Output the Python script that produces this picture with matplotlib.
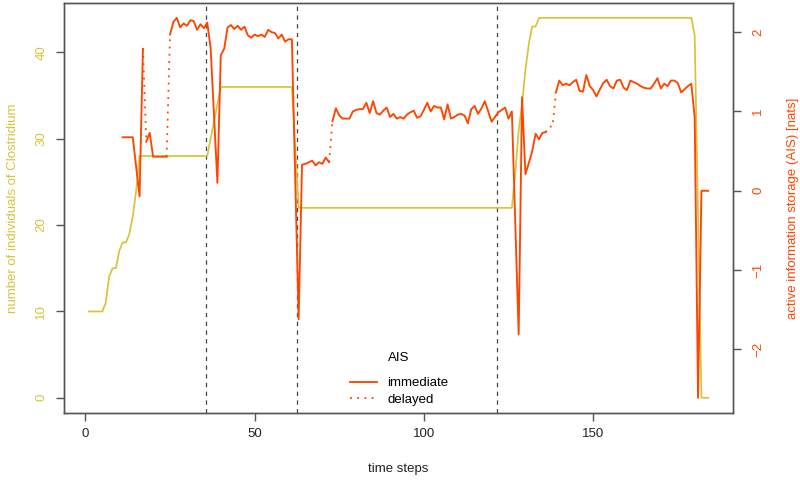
import numpy as np
import matplotlib
matplotlib.use("Agg")
import matplotlib.pyplot as plt

plt.rcParams['font.family'] = ['Liberation Sans', 'DejaVu Sans']

# ---------------- data ----------------
time_steps = np.arange(1, 185)

clostridium = (
    [10, 10, 10, 10, 10, 11, 14, 15, 15, 17, 18, 18, 19, 21, 24, 28]      # t=1..16
    + [28] * 20                                                          # t=17..36
    + [30, 32, 34, 36]                                                   # t=37..40
    + [36] * 21                                                          # t=41..61
    + [29]                                                               # t=62
    + [22] * 64                                                          # t=63..126
    + [26, 31, 34, 38, 41, 43, 43]                                       # t=127..133
    + [44] * 46                                                          # t=134..179
    + [42, 21, 0, 0, 0]                                                  # t=180..184
)

ais_start = 11
ais_values = [
    0.675, 0.675, 0.675, 0.675, 0.30, -0.07, 1.79, 0.62, 0.73, 0.43,      # 11-20
    0.43, 0.43, 0.43, 0.43, 1.97, 2.13, 2.18, 2.06, 2.11, 2.08,           # 21-30
    2.15, 2.14, 2.03, 2.10, 2.05, 2.12, 1.80, 0.95, 0.10, 1.71,           # 31-40
    1.79, 2.06, 2.09, 2.04, 2.08, 2.03, 2.07, 1.96, 1.93, 1.97,           # 41-50
    1.95, 1.97, 1.94, 2.03, 2.00, 1.99, 1.92, 1.97, 1.88, 1.91,           # 51-60
    1.91, 0.15, -1.62, 0.33, 0.34, 0.36, 0.38, 0.32, 0.36, 0.34,          # 61-70
    0.42, 0.36, 0.88, 1.04, 0.95, 0.91, 0.91, 0.91, 1.00, 1.02,           # 71-80
    1.03, 1.03, 1.11, 0.98, 1.13, 0.98, 0.96, 1.01, 1.05, 0.93,           # 81-90
    0.97, 0.91, 0.93, 0.91, 0.96, 0.99, 1.01, 0.92, 0.94, 1.02,           # 91-100
    1.11, 1.00, 1.07, 1.05, 1.05, 0.90, 1.09, 0.91, 0.93, 0.96,           # 101-110
    0.97, 0.95, 0.85, 1.03, 1.07, 0.97, 1.04, 1.13, 1.00, 0.87,           # 111-120
    0.93, 0.99, 1.02, 1.05, 0.91, 1.00, -0.40, -1.81, 1.18, 0.21,         # 121-130
    0.35, 0.50, 0.72, 0.65, 0.73, 0.74, 0.81, 0.81, 1.24, 1.39,           # 131-140
    1.33, 1.35, 1.33, 1.37, 1.40, 1.26, 1.25, 1.46, 1.32, 1.27,           # 141-150
    1.19, 1.28, 1.36, 1.40, 1.32, 1.29, 1.39, 1.40, 1.30, 1.27,           # 151-160
    1.39, 1.37, 1.35, 1.32, 1.30, 1.29, 1.29, 1.35, 1.42, 1.29,           # 161-170
    1.35, 1.32, 1.39, 1.39, 1.36, 1.24, 1.28, 1.32, 1.35, 0.93,           # 171-180
    -2.61, 0.0, 0.0, 0.0,                                                 # 181-184
]
ais_t = np.arange(ais_start, ais_start + len(ais_values))

# time steps t whose step t -> t+1 is drawn as "delayed"
delayed_steps = [17, 24, 72, 136, 137, 138]

# phase boundaries
phase_breaks = [35.5, 62.5, 121.5]

x_ticks = [0, 50, 100, 150]
left_ticks = [0, 10, 20, 30, 40]
right_ticks = [-2, -1, 0, 1, 2]

# ---------------- style ----------------
YELLOW = "#D7C43A"
ORANGE = "#FF4500"
BOX = "#555555"

fig = plt.figure(figsize=(8, 4.8), dpi=100)
ax = fig.add_axes([64 / 800, 1 - 413 / 480, (733 - 64) / 800, (413 - 2.7) / 480])
ax2 = ax.twinx()

# population
ax.plot(time_steps, clostridium, color=YELLOW, lw=1.25, zorder=2)
for b in phase_breaks:
    ax.axvline(b, color="#444444", lw=0.9, ls=(0, (3.5, 3.5)), zorder=1)

# AIS immediate (solid, broken where delayed)
xs, ys = [], []
for t, v in zip(ais_t, ais_values):
    xs.append(t)
    ys.append(v)
    if t in delayed_steps:
        xs.append(np.nan)
        ys.append(np.nan)
ax2.plot(xs, ys, color=ORANGE, lw=1.35, solid_joinstyle="round", label="immediate")

# AIS delayed (dotted) runs
ais_map = dict(zip(ais_t, ais_values))
runs = []
for t in delayed_steps:
    if runs and runs[-1][-1] == t - 1:
        runs[-1].append(t)
    else:
        runs.append([t])
first = True
for r in runs:
    tt = list(r) + [r[-1] + 1]
    ax2.plot(tt, [ais_map[k] for k in tt], color=ORANGE, lw=1.3,
             ls=(0, (1, 3)), label="delayed" if first else None)
    first = False

# ---------------- axes ----------------
ax.set_xlim(1 - 0.04 * 183, 184 + 0.04 * 183)
ax.set_ylim(-0.04 * 44, 44 * 1.04)
amin, amax = min(ais_values), max(ais_values)
span = amax - amin
ax2.set_ylim(amin - 0.04 * span, amax + 0.04 * span)

for a in (ax, ax2):
    for s in a.spines.values():
        s.set_color(BOX)
        s.set_linewidth(1.0)

ax.set_xticks(x_ticks)
ax.set_yticks(left_ticks)
ax2.set_yticks(right_ticks)

ax.tick_params(axis="x", length=6, width=1, color=BOX, labelsize=9.5,
               labelcolor="#222222", pad=5)
ax.tick_params(axis="y", length=6, width=1, color=BOX, labelsize=9.5,
               labelcolor=YELLOW, pad=6)
ax2.tick_params(axis="y", length=6, width=1, color=BOX, labelsize=9.5,
                labelcolor=ORANGE, pad=8)
for lab in ax.get_yticklabels():
    lab.set_rotation(90)
    lab.set_va("center")
for lab in ax2.get_yticklabels():
    lab.set_rotation(90)
    lab.set_va("center")

ax.set_xlabel("time steps", fontsize=9.5, color="#222222")
ax.set_ylabel("number of individuals of Clostridium", fontsize=9.5, color=YELLOW)
ax2.set_ylabel("active information storage (AIS) [nats]", fontsize=9.5, color=ORANGE)
ax.xaxis.set_label_coords(0.5, -0.121)
ax.yaxis.set_label_coords(-0.068, 0.5)
ax2.yaxis.set_label_coords(1.081, 0.5)

leg = ax2.legend(title="AIS", loc="center", bbox_to_anchor=(0.501, 0.083),
                 frameon=False, fontsize=9.5, title_fontsize=9.5,
                 handlelength=2.0, handletextpad=0.8, labelspacing=0.32)
leg._legend_box.sep = 9.5

fig.savefig("out.png", dpi=100)
